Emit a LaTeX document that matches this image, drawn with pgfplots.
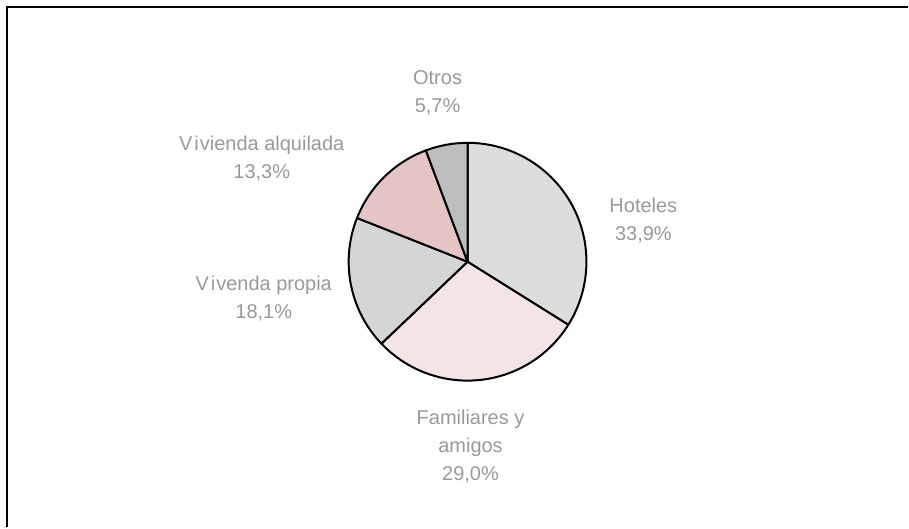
\documentclass[border=0pt]{standalone}
\usepackage{pgfplots}
\pgfplotsset{compat=1.18}
\usepackage{pgfplotstable}
\usepackage{fontspec}
\setmainfont{Liberation Sans}
\definecolor{cHot}{HTML}{DDDDDD}
\definecolor{cFam}{HTML}{F4E4E4}
\definecolor{cPro}{HTML}{D5D5D5}
\definecolor{cAlq}{HTML}{E4C4C4}
\definecolor{cOtr}{HTML}{BEBEBE}
\definecolor{lbl}{HTML}{999999}
\pgfplotstableread[col sep=comma]{
label,value,color
Hoteles,33.9,cHot
Familiares y amigos,29.0,cFam
Vivenda propia,18.1,cPro
Vivienda alquilada,13.3,cAlq
Otros,5.7,cOtr
}\piedata
\begin{document}
\begin{tikzpicture}
\begin{axis}[
  scale only axis, width=909pt, height=528pt,
  xmin=0, xmax=909, ymin=0, ymax=528,
  axis lines=none, clip=false,
]
\path (axis cs:0,0) rectangle (axis cs:909,528);
% frame
\draw[line width=1.8pt] (axis cs:7,0) -- (axis cs:7,521) -- (axis cs:909,521);
\pgfplotstablegetrowsof{\piedata}
\pgfmathtruncatemacro\N{\pgfplotsretval-1}
\def\cum{90}
\pgfplotsforeachungrouped \i in {0,...,\N}{%
  \pgfplotstablegetelem{\i}{value}\of{\piedata}\let\v\pgfplotsretval
  \pgfplotstablegetelem{\i}{color}\of{\piedata}\let\col\pgfplotsretval
  \pgfmathsetmacro\endang{\cum-3.6*\v}%
  \edef\temp{\noexpand\draw[fill=\col, line width=2pt, line join=round] (axis cs:468,266) -- ++(\cum:119pt) arc[start angle=\cum, end angle=\endang, radius=119pt] -- cycle;}%
  \temp
  \global\let\cum\endang
}
\begin{scope}[every node/.style={text=lbl, font=\fontsize{20}{28}\selectfont, align=center}]
\node at (axis cs:644,307) {Hoteles\\33,9\%};
\node at (axis cs:471,81) {Familiares y\\amigos\\29,0\%};
\node at (axis cs:264,229) {V\kern0.1em i\kern0.05em venda propia\\18,1\%};
\node at (axis cs:262,369) {V\kern0.1em i\kern0.05em vienda alquilada\\13,3\%};
\node at (axis cs:438,435) {Otros\\5,7\%};
\end{scope}
\end{axis}
\end{tikzpicture}
\end{document}
